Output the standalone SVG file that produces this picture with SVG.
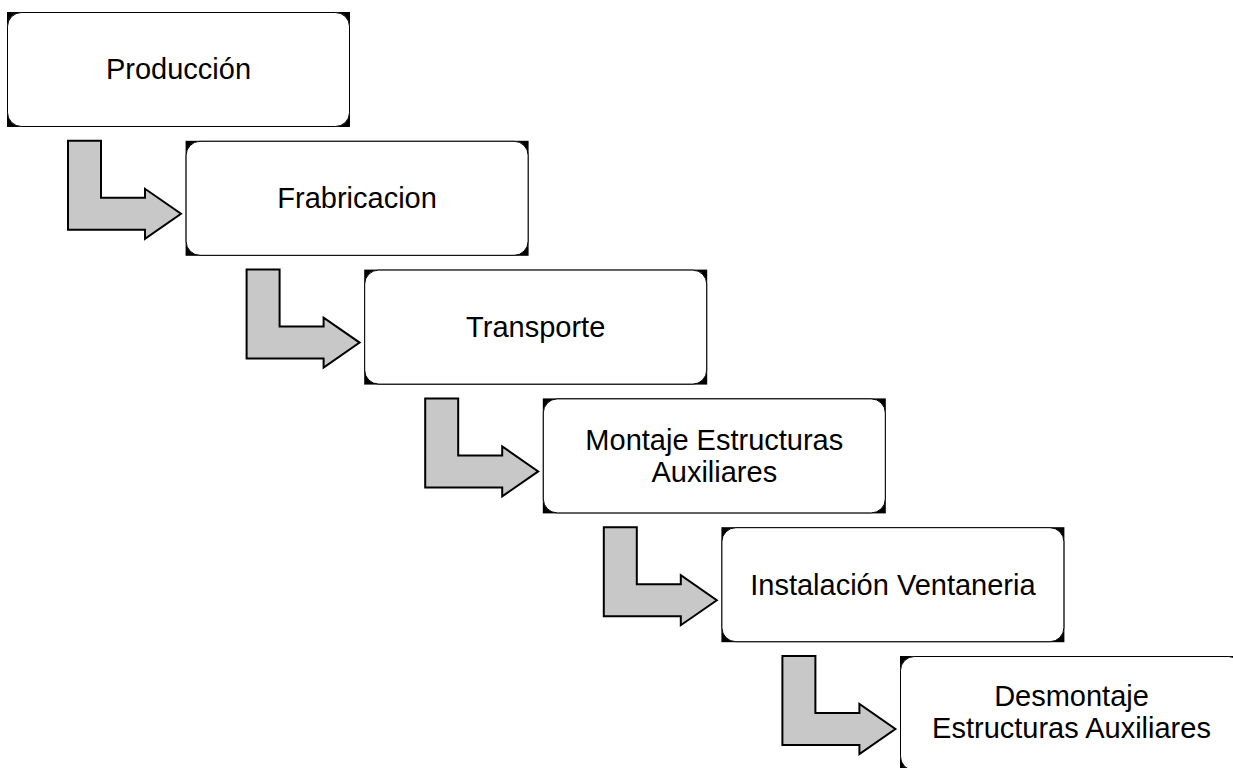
<svg xmlns="http://www.w3.org/2000/svg" width="1233" height="768" viewBox="0 0 1233 768">
<style>
.bk{fill:#000}
.bx{fill:#fff;stroke:#000;stroke-width:1}
.t{font-family:"Liberation Sans",Arial,sans-serif;font-size:29px;fill:#000;text-anchor:middle}
.ar{fill:#c8c8c8;stroke:#000;stroke-width:2;stroke-linejoin:miter}
</style>
<defs>
<path id="arr" d="M0,0 H33 V57 H77 V48 L113,73 L77,98 V89 H0 Z"/>
</defs>
<rect width="1233" height="768" fill="#fff"/>
<g id="connectors">
<use href="#arr" class="ar" x="68" y="140.8"/>
<use href="#arr" class="ar" x="246.6" y="269.6"/>
<use href="#arr" class="ar" x="425.2" y="398.4"/>
<use href="#arr" class="ar" x="603.8" y="527.2"/>
<use href="#arr" class="ar" x="782.4" y="656"/>
</g>
<g id="n1">
<rect class="bk" x="7" y="12" width="343" height="115"/>
<rect class="bx" x="7.5" y="12.5" width="342" height="114" rx="14"/>
<text class="t" x="178.5" y="79">Producción</text>
</g>
<g id="n2">
<rect class="bk" x="185.6" y="140.8" width="343" height="115"/>
<rect class="bx" x="186.1" y="141.3" width="342" height="114" rx="14"/>
<text class="t" x="357.1" y="207.8">Frabricacion</text>
</g>
<g id="n3">
<rect class="bk" x="364.2" y="269.6" width="343" height="115"/>
<rect class="bx" x="364.7" y="270.1" width="342" height="114" rx="14"/>
<text class="t" x="535.7" y="336.6">Transporte</text>
</g>
<g id="n4">
<rect class="bk" x="542.8" y="398.4" width="343" height="115"/>
<rect class="bx" x="543.3" y="398.9" width="342" height="114" rx="14"/>
<text class="t" x="714.3" y="450">Montaje Estructuras</text>
<text class="t" x="714.3" y="482">Auxiliares</text>
</g>
<g id="n5">
<rect class="bk" x="721.4" y="527.2" width="343" height="115"/>
<rect class="bx" x="721.9" y="527.7" width="342" height="114" rx="14"/>
<text class="t" x="892.9" y="595">Instalación Ventaneria</text>
</g>
<g id="n6">
<rect class="bk" x="900" y="656" width="343" height="115"/>
<rect class="bx" x="900.5" y="656.5" width="342" height="114" rx="14"/>
<text class="t" x="1071.5" y="706">Desmontaje</text>
<text class="t" x="1071.5" y="738">Estructuras Auxiliares</text>
</g>
</svg>
